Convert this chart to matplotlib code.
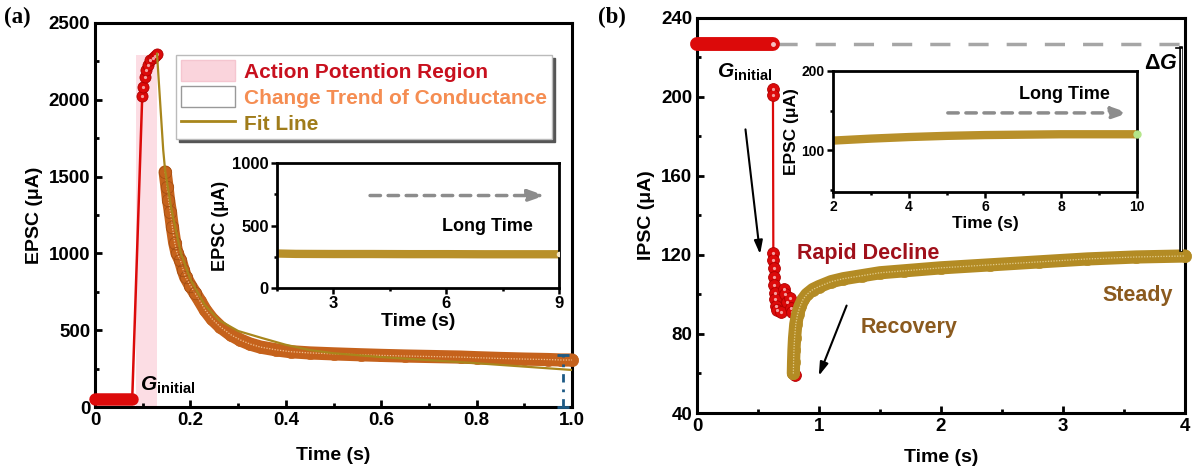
import matplotlib
matplotlib.use("Agg")
import matplotlib.pyplot as plt
from matplotlib.patches import Patch
from matplotlib.lines import Line2D
from matplotlib.ticker import MultipleLocator

# Fonts: bold Arial-like everywhere
plt.rcParams['font.family'] = ['Liberation Sans', 'DejaVu Sans']
plt.rcParams['font.weight'] = 'bold'
plt.rcParams['mathtext.fontset'] = 'custom'
plt.rcParams['mathtext.rm'] = 'Liberation Sans:bold'
plt.rcParams['mathtext.it'] = 'Liberation Sans:italic:bold'
plt.rcParams['mathtext.bf'] = 'Liberation Sans:bold'

# ---------------- Panel (a) data ----------------
a_base_t = [0.0, 0.02, 0.04, 0.06, 0.078]
a_base_i = [50, 50, 50, 50, 50]
a_rise_t = [0.078, 0.099, 0.101, 0.104, 0.107, 0.111, 0.116, 0.121, 0.126, 0.130]
a_rise_i = [50, 2025, 2085, 2150, 2195, 2228, 2258, 2275, 2285, 2295]
a_decay_t = [0.147, 0.151, 0.154, 0.158, 0.162, 0.167, 0.172, 0.179, 0.185, 0.190,
             0.200, 0.210, 0.220, 0.231, 0.245, 0.263, 0.285, 0.305, 0.325, 0.347,
             0.380, 0.410, 0.450, 0.500, 0.557, 0.600, 0.650, 0.700, 0.767, 0.800,
             0.850, 0.900, 0.950, 0.977, 1.000]
a_decay_i = [1530, 1430, 1350, 1270, 1175, 1070, 1000, 955, 890, 845,
             790, 740, 690, 632, 575, 521, 470, 436, 410, 390,
             372, 360, 352, 346, 340, 336, 332, 329, 325, 321,
             316, 312, 309, 306, 306]
a_fit_t = [0.130, 0.143, 0.147, 0.160, 0.180, 0.200, 0.230, 0.260, 0.300, 0.350,
           0.400, 0.450, 0.500, 0.600, 0.700, 0.800, 0.900, 1.000]
a_fit_i = [2300, 1673, 1540, 1290, 1000, 830, 665, 565, 495, 449,
           405, 371, 350, 325, 305, 285, 263, 241]
a_ap_region = [0.085, 0.130]
a_ap_top = 2290
a_inset_t = [1.5, 2.0, 3.0, 4.0, 5.0, 6.0, 7.0, 8.0, 9.0]
a_inset_i = [276, 273, 272, 272, 271, 271, 270, 270, 270]
a_errbar_t = 0.981
a_errbar_i = [0, 340]

# ---------------- Panel (b) data ----------------
b_plateau_t = [0.0, 0.1, 0.2, 0.3, 0.4, 0.5, 0.6, 0.62]
b_plateau_i = [227, 227, 227, 227, 227, 227, 227, 227]
b_g_initial = 227
b_decline_t = [0.620, 0.623, 0.626, 0.626, 0.628, 0.628, 0.632, 0.636, 0.640, 0.650,
               0.660, 0.690, 0.710, 0.720, 0.740, 0.765, 0.770, 0.780, 0.790, 0.800]
b_decline_i = [204, 201, 121, 117.5, 113.6, 109, 105, 101, 97.5, 94,
               92, 91, 103, 100, 96, 98, 93, 91, 60, 59]
b_recover_t = [0.790, 0.792, 0.795, 0.800, 0.810, 0.825, 0.845, 0.870, 0.900, 0.950,
               1.000, 1.100, 1.200, 1.350, 1.500, 1.700, 2.000, 2.400, 2.800, 3.200,
               3.600, 4.000]
b_recover_i = [60, 66, 72, 78, 85, 90, 94, 97.5, 100, 102.5,
               104, 106.5, 108, 109.5, 111, 112, 113.5, 115, 116.5, 118,
               119, 119.5]
b_inset_t = [2, 3, 4, 5, 6, 7, 8, 9, 10]
b_inset_i = [112, 114.5, 116.5, 118, 119, 119.5, 120, 120, 120]

# colours
RED = '#dc0a0a'
RED_EDGE = '#b00000'
ORANGE = '#c5621c'
FIT = '#a8861c'
GOLD = '#b38b24'
INSET_GOLD = '#b8902a'


def style_main(ax):
    for s in ax.spines.values():
        s.set_linewidth(2.2)
    ax.tick_params(which='both', direction='in', top=False, right=False,
                   labelsize=13.5, width=2)
    ax.tick_params(which='major', length=5)
    ax.tick_params(which='minor', length=3)


def style_inset(ax, fs):
    for s in ax.spines.values():
        s.set_linewidth(2)
    ax.tick_params(which='both', direction='out', top=False, right=False,
                   labelsize=fs, width=1.8, pad=2)
    ax.tick_params(which='major', length=4)
    ax.tick_params(which='minor', length=2.5)


def ball_band(ax, t, i, color, lw, ms, hl, z):
    # dense symbols drawn as a thick band with a dotted highlight through it
    ax.plot(t, i, color=color, lw=lw, solid_capstyle='round', solid_joinstyle='round',
            zorder=z, clip_on=False)
    ax.plot(t, i, 'o', ms=ms, mfc=color, mec=color, mew=0.3, zorder=z, clip_on=False)
    ax.plot(t, i, color=hl, lw=0.9, ls=(0, (1, 1.2)), zorder=z, clip_on=False)


fig = plt.figure(figsize=(11.92, 4.72), dpi=100)
axa = fig.add_axes([0.0797, 0.1377, 0.4002, 0.8136])
axb = fig.add_axes([0.5847, 0.125, 0.4094, 0.8369])
insa = fig.add_axes([0.2324, 0.3898, 0.2366, 0.2648])
insb = fig.add_axes([0.6988, 0.5932, 0.2550, 0.2564])

# ---------------- Panel (a) ----------------
axa.fill_between(a_ap_region, 0, a_ap_top, color='#fcdde4', lw=0, zorder=1)
axa.plot(a_base_t, a_base_i, color=RED, lw=9, solid_capstyle='round', zorder=3, clip_on=False)
axa.plot(a_rise_t, a_rise_i, color=RED, lw=1.8, zorder=3)
axa.plot(a_rise_t[1:], a_rise_i[1:], 'o', ms=8, mfc=RED, mec=RED_EDGE, mew=0.6, zorder=4)
axa.plot(a_rise_t[1:], a_rise_i[1:], 'o', ms=1.3, color='#f4a0a0', zorder=4)
ball_band(axa, a_decay_t, a_decay_i, ORANGE, 9.5, 9, '#f0c090', 3)
axa.plot(a_decay_t[:12], a_decay_i[:12], 'o', ms=9, mfc='none', mec='#a04c12', mew=0.5, zorder=4)
axa.plot(a_fit_t, a_fit_i, color=FIT, lw=1.6, zorder=5)

# blue dash-dot bar at the end
axa.plot([a_errbar_t, a_errbar_t], a_errbar_i, color='#1d5a85', lw=2,
         ls=(0, (3, 2.5, 1, 2.5)), zorder=6, clip_on=False)
axa.plot([a_errbar_t, a_errbar_t], a_errbar_i, ls='none', marker='_', ms=8, mew=2,
         color='#1d5a85', zorder=6, clip_on=False)

axa.text(0.095, 143, r'$G_{\rm initial}$', fontsize=15, va='center', ha='left', zorder=6)

axa.set_xlim(0, 1.0)
axa.set_ylim(0, 2500)
axa.xaxis.set_minor_locator(MultipleLocator(0.1))
axa.yaxis.set_major_locator(MultipleLocator(500))
axa.yaxis.set_minor_locator(MultipleLocator(250))
axa.set_xticks([0, 0.2, 0.4, 0.6, 0.8, 1.0], ['0', '0.2', '0.4', '0.6', '0.8', '1.0'])
style_main(axa)
axa.set_xlabel('Time (s)', fontsize=14, fontweight='bold', labelpad=13)
axa.set_ylabel('EPSC (\u03bcA)', fontsize=14, fontweight='bold', labelpad=4)

handles = [Patch(facecolor='#fad4dc', edgecolor='#f5c6d0'),
           Patch(facecolor='white', edgecolor='#999999'),
           Line2D([], [], color=FIT, lw=2)]
labels = ['Action Potention Region', 'Change Trend of Conductance', 'Fit Line']
leg = axa.legend(handles, labels, loc='upper left', bbox_to_anchor=(0.17, 0.917),
                 borderaxespad=0, fontsize=15, frameon=True, fancybox=False,
                 edgecolor='#bbbbbb', shadow={'color': '#555555', 'alpha': 1},
                 handlelength=2.6, handleheight=1.2, labelspacing=0.2,
                 handletextpad=0.4, borderpad=0.25, framealpha=1)
for txt, c in zip(leg.get_texts(), ['#c8101e', '#f58d52', '#a07c1a']):
    txt.set_color(c)
leg.get_frame().set_linewidth(1)
leg.set_zorder(10)

# inset (a)
insa.plot(a_inset_t, a_inset_i, color=INSET_GOLD, lw=6, solid_capstyle='round')
insa.plot(a_inset_t[-1], a_inset_i[-1], 'o', ms=3, color='#f4e6c8', zorder=4)
insa.set_xlim(1.5, 9)
insa.set_ylim(0, 1000)
insa.set_xticks([3, 6, 9])
insa.xaxis.set_minor_locator(MultipleLocator(1.5))
insa.set_yticks([0, 500, 1000])
insa.yaxis.set_minor_locator(MultipleLocator(250))
style_inset(insa, 12)
insa.set_xlabel('Time (s)', fontsize=14, fontweight='bold', labelpad=1)
insa.set_ylabel('EPSC (\u03bcA)', fontsize=13, fontweight='bold', labelpad=2)
insa.annotate('', xy=(8.7, 740), xytext=(3.9, 740),
              arrowprops=dict(arrowstyle='-|>,head_length=1.0,head_width=0.35',
                              color='#8c8c8c', lw=2.5, ls=(0, (3, 2.2))))
insa.text(7.1, 490, 'Long Time', fontsize=13, ha='center', va='center')

# ---------------- Panel (b) ----------------
axb.plot([0.66, 4.0], [b_g_initial, b_g_initial], color='#a6a6a6', lw=2.5,
         ls=(0, (5.8, 5.2)), zorder=2, clip_on=False)
axb.plot(b_plateau_t, b_plateau_i, color=RED, lw=10, solid_capstyle='round',
         zorder=3, clip_on=False)
axb.plot(b_plateau_t[-1], b_plateau_i[-1], 'o', ms=2.5, color='#f6c0c0', zorder=4)
axb.plot(b_decline_t, b_decline_i, color=RED, lw=1.6, zorder=3)
axb.plot(b_decline_t, b_decline_i, 'o', ms=8.5, mfc=RED, mec=RED_EDGE, mew=0.6, zorder=4)
axb.plot(b_decline_t, b_decline_i, 'o', ms=1.3, color='#f4a0a0', zorder=4)
ball_band(axb, b_recover_t, b_recover_i, GOLD, 9.5, 9, '#e2cc8c', 5)

# Delta G bracket
axb.plot([3.965, 3.965], [b_g_initial - 2, b_recover_i[-1] + 3], color='black',
         lw=2.6, zorder=6, clip_on=False)
axb.plot([3.965, 3.965], [b_g_initial - 2, b_recover_i[-1] + 3], color='white',
         lw=0.8, zorder=6, clip_on=False)
axb.plot([3.93, 3.975], [b_g_initial - 2, b_g_initial - 2], color='black', lw=1.2, zorder=6)
axb.text(3.94, 217, r'$\Delta G$', fontsize=15.5, ha='right', va='center')

axb.text(0.165, 212.5, r'$G_{\rm initial}$', fontsize=15, ha='left', va='center')
axb.text(0.82, 121, 'Rapid Decline', fontsize=15.5, color='#a0101a', ha='left', va='center')
axb.text(1.34, 83.5, 'Recovery', fontsize=15.5, color='#8b5a1e', ha='left', va='center')
axb.text(3.32, 99.7, 'Steady', fontsize=15.5, color='#8b5a1e', ha='left', va='center')

axb.annotate('', xy=(0.52, 119), xytext=(0.395, 185),
             arrowprops=dict(arrowstyle='-|>,head_length=0.8,head_width=0.25',
                             color='black', lw=1.5))
axb.annotate('', xy=(0.99, 57.5), xytext=(1.235, 95.7),
             arrowprops=dict(arrowstyle='-|>,head_length=0.8,head_width=0.25',
                             color='black', lw=1.5))

axb.set_xlim(0, 4)
axb.set_ylim(40, 240)
axb.xaxis.set_major_locator(MultipleLocator(1))
axb.xaxis.set_minor_locator(MultipleLocator(0.5))
axb.yaxis.set_major_locator(MultipleLocator(40))
axb.yaxis.set_minor_locator(MultipleLocator(20))
style_main(axb)
axb.set_xlabel('Time (s)', fontsize=14, fontweight='bold', labelpad=10)
axb.set_ylabel('IPSC (\u03bcA)', fontsize=14, fontweight='bold', labelpad=4)

# inset (b)
insb.plot(b_inset_t, b_inset_i, color=INSET_GOLD, lw=6, solid_capstyle='butt')
insb.plot(b_inset_t[-1], b_inset_i[-1], 'o', ms=5, color='#b4e68a', zorder=4, clip_on=False)
insb.set_xlim(2, 10)
insb.set_ylim(47, 200)
insb.set_xticks([2, 4, 6, 8, 10])
insb.xaxis.set_minor_locator(MultipleLocator(1))
insb.set_yticks([100, 200])
insb.yaxis.set_minor_locator(MultipleLocator(50))
style_inset(insb, 10)
insb.set_xlabel('Time (s)', fontsize=12.5, fontweight='bold', labelpad=1)
insb.set_ylabel('EPSC (\u03bcA)', fontsize=12.5, fontweight='bold', labelpad=2)
insb.annotate('', xy=(9.85, 147), xytext=(4.95, 147),
              arrowprops=dict(arrowstyle='-|>,head_length=1.0,head_width=0.35',
                              color='#8c8c8c', lw=2.5, ls=(0, (3, 2.2))))
insb.text(8.1, 170, 'Long Time', fontsize=13, ha='center', va='center')

# panel letters
fig.text(0.003, 0.963, '(a)', fontsize=16.5, fontweight='bold',
         family='Liberation Serif', va='center', ha='left')
fig.text(0.502, 0.963, '(b)', fontsize=16.5, fontweight='bold',
         family='Liberation Serif', va='center', ha='left')

fig.savefig('out.png', dpi=100)
